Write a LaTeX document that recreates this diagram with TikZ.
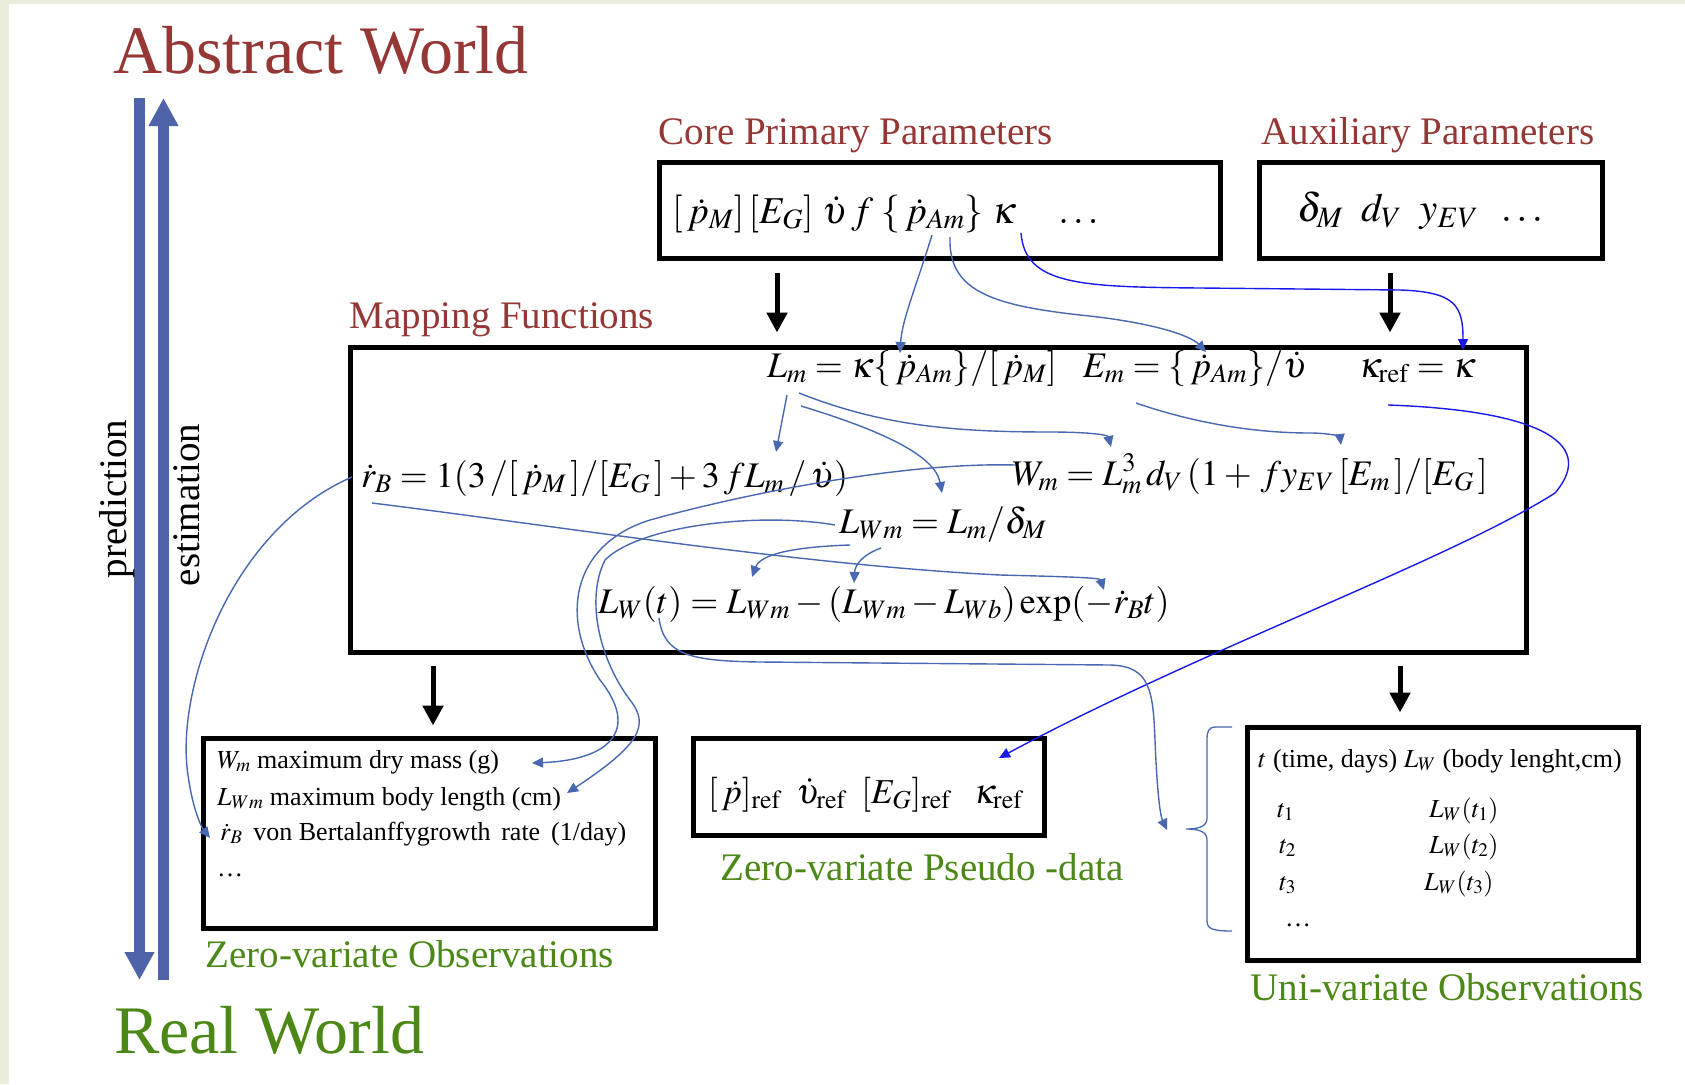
\documentclass[tikz,border=0pt]{standalone}
\usepackage{mathptmx}
\usepackage{fontspec}
\setmainfont{Liberation Serif}
\usetikzlibrary{arrows.meta,positioning}
\definecolor{DeepRed}{RGB}{149,55,53}
\definecolor{LeafGreen}{RGB}{76,136,22}
\definecolor{SteelBlue}{RGB}{78,99,168}
\definecolor{LinkBlue}{RGB}{72,104,178}
\definecolor{PureBlue}{RGB}{25,25,235}
\definecolor{SlideTint}{RGB}{232,238,218}
\tikzset{
  panel/.style={draw, line width=5pt, inner sep=0pt, anchor=north west},
  eq/.style={anchor=base west, inner sep=0pt, font=\fontsize{36}{40}\selectfont},
  small/.style={anchor=base west, inner sep=0pt, font=\fontsize{26}{30}\selectfont},
  headred/.style={inner sep=0pt, text height=28pt, text depth=9pt, text=DeepRed, font=\fontsize{39}{44}\selectfont},
  headgreen/.style={headred, text=LeafGreen},
  flowarrow/.style={line width=5pt, -{Triangle[width=20pt,length=20pt]}},
  worldarrow/.style={line width=11pt, draw=SteelBlue, -{Triangle[width=28pt,length=28pt]}},
  link/.style={draw=LinkBlue, line width=1.4pt, -{Triangle[width=10pt,length=11pt]}},
  kaplink/.style={link, draw=PureBlue}
}
\begin{document}
\begin{tikzpicture}[x=1pt, y=-1pt]
    \fill[white] (0,0) rectangle (1685,1084);
    \fill[SlideTint] (0,0) rectangle (9,1084);
    \fill[SlideTint] (0,0) rectangle (1685,4);
    \useasboundingbox (0,0) rectangle (1685,1084);

    % worlds
    \node [anchor=base west, inner sep=0pt, text=DeepRed, font=\fontsize{68}{72}\selectfont] (abstract) at (113,73) {Abstract World};
    \node [anchor=base west, inner sep=0pt, text=LeafGreen, font=\fontsize{68}{72}\selectfont] (real) at (114,1053) {Real World};
    \coordinate (predtop) at (139.5,98);
    \coordinate (predbot) at (139.5,980);
    \coordinate (esttop) at (163.5,98);
    \coordinate (estbot) at (163.5,980);
    \draw [worldarrow] (predtop) -- (predbot);
    \draw [worldarrow] (estbot) -- (esttop);
    \node [anchor=base, inner sep=0pt, rotate=90, font=\fontsize{39}{44}\selectfont] (pred) at (126,499) {prediction};
    \node [anchor=base, inner sep=0pt, rotate=90, font=\fontsize{39}{44}\selectfont] (est) at (199,505) {estimation};

    % boxes
    \node [panel, minimum width=561, minimum height=96] (core) at (656.5,159.5) {};
    \node [panel, minimum width=343, minimum height=96] (aux) at (1256.5,159.5) {};
    \node [panel, minimum width=1176, minimum height=305] (map) at (347.5,344.5) {};
    \node [panel, minimum width=452, minimum height=190] (zero) at (200.5,735.5) {};
    \node [panel, minimum width=351, minimum height=97] (pseudo) at (690.5,735.5) {};
    \node [panel, minimum width=391, minimum height=233] (uni) at (1244.5,724.5) {};

    % box titles
    \node [headred, above right=6pt and 2pt of core.north west] (corelbl) {Core Primary Parameters};
    \node [headred, above right=6pt and 5pt of aux.north west] (auxlbl) {Auxiliary Parameters};
    \node [headred, above right=7pt and 2pt of map.north west] (maplbl) {Mapping Functions};
    \node [headgreen, below right=9pt and 5pt of zero.south west] (zerolbl) {Zero-variate Observations};
    \node [headgreen, below right=15pt and 30pt of pseudo.south west] (pseudolbl) {Zero-variate Pseudo -data};
    \node [headgreen, below right=10pt and 6pt of uni.south west] (unilbl) {Uni-variate Observations};

    % contents
    \node [eq, font=\fontsize{38}{42}\selectfont] (coreeq) at (672,223) {$[\,\dot p_{M}]\,[E_{G}]\;\dot\upsilon\, f\;\{\,\dot p_{Am}\}\;\kappa\quad\ldots$};
    \node [eq, font=\fontsize{40}{44}\selectfont] (auxeq) at (1297,221) {$\delta_M\;\; d_{V}\;\; y_{EV}\;\;\ldots$};
    \node [eq] (lmeq) at (767,377) {$L_m = \kappa\{\,\dot p_{Am}\}/[\,\dot p_M]\enspace\; E_m = \{\,\dot p_{Am}\}/\dot\upsilon\quad\;\; \kappa_{\mathrm{ref}} = \kappa$};
    \node [eq] (rbeq) at (361,487) {$\dot r_B = 1(3\,/[\,\dot p_M\,]/[E_G\,] + 3\,fL_m\,/\,\dot\upsilon)$};
    \node [eq] (wmeq) at (1012,485) {$W_m = L_m^3\, d_V\,(1+\, fy_{EV}\,[E_m\,]/[E_G\,]$};
    \node [eq] (lwmeq) at (839,533) {$L_{Wm} = L_m/\delta_M$};
    \node [eq] (lwteq) at (598,613) {$L_W(t) = L_{Wm} - (L_{Wm} - L_{Wb})\exp(-\dot r_B t)$};
    \node [small] (obs1) at (217,768) {$W_m$ maximum dry mass (g)};
    \node [small] (obs2) at (217,805) {$L_{Wm}$ maximum body length (cm)};
    \node [small] (obs3) at (220,840) {$\dot r_B$\, von Bertalanffygrowth\, rate\, (1/day)};
    \node [small] (obs4) at (217,876) {\ldots};
    \node [eq, font=\fontsize{35}{40}\selectfont] (pseudoeq) at (708,803) {$[\,\dot p]_{\mathrm{ref}}\;\;\dot\upsilon_{\mathrm{ref}}\;\;[E_G]_{\mathrm{ref}}\;\;\;\kappa_{\mathrm{ref}}$};
    \node [small] (unihead) at (1258,767) {$t$ (time, days) $L_W$ (body lenght,cm)};
    \node [small] (t1) at (1277,817) {$t_1$};
    \node [small] (t2) at (1279,853) {$t_2$};
    \node [small] (t3) at (1279,890) {$t_3$};
    \node [small] (tdots) at (1285,926) {\ldots};
    \node [small] (lw1) at (1429,817) {$L_W(t_1)$};
    \node [small] (lw2) at (1429,853) {$L_W(t_2)$};
    \node [small] (lw3) at (1424,890) {$L_W(t_3)$};

    % flow arrows
    \coordinate (c1) at (777,0);
    \coordinate (c2) at (1390,0);
    \coordinate (c3) at (433,0);
    \coordinate (c4) at (1400,0);
    \draw [flowarrow, shorten <=12pt, shorten >=12pt] (core.south -| c1) -- (map.north -| c1);
    \draw [flowarrow, shorten <=12pt, shorten >=12pt] (aux.south -| c2) -- (map.north -| c2);
    \draw [flowarrow, shorten <=11pt, shorten >=10pt] (map.south -| c3) -- (zero.north -| c3);
    \draw [flowarrow, shorten <=11pt, shorten >=12pt] (map.south -| c4) -- (uni.north -| c4);

    % link ends
    \coordinate (pam1) at (932,235);
    \coordinate (pam2) at (950,237);
    \coordinate (kap) at (1021,233);
    \coordinate (pamL) at (900,353);
    \coordinate (pamE) at (1206,352);
    \coordinate (kapR) at (1463,350);
    \coordinate (lm1) at (787,395);
    \coordinate (lm2) at (799,393);
    \coordinate (lm3) at (801,406);
    \coordinate (em) at (1136,403);
    \coordinate (kref) at (1388,405);
    \coordinate (lmrb) at (776,452);
    \coordinate (lmwm) at (1111,447);
    \coordinate (lmlw) at (942,493);
    \coordinate (emwm) at (1341,445);
    \coordinate (rb1) at (352,477);
    \coordinate (rb2) at (372,503);
    \coordinate (wm) at (1015,465);
    \coordinate (lwm1) at (835,525);
    \coordinate (lwm2) at (850,545);
    \coordinate (lwm3) at (881,548);
    \coordinate (lwa) at (752,577);
    \coordinate (lwb) at (854,583);
    \coordinate (rbexp) at (1104,590);
    \coordinate (tt) at (659,618);
    \coordinate (obswm) at (532,763);
    \coordinate (obslwm) at (567,793);
    \coordinate (obsrb) at (210,838);
    \coordinate (pskap) at (999,758);
    \coordinate (brtip) at (1167,830);

    % links
    \draw [link] (pam1) .. controls (915,290) and (902,320) .. (pamL);
    \draw [link] (pam2) .. controls (948,290) and (990,305) .. (1080,315) .. controls (1150,322) and (1190,335) .. (pamE);
    \draw [kaplink] (kap) .. controls (1025,285) and (1080,287) .. (1200,288) -- (1400,290) .. controls (1455,292) and (1463,305) .. (kapR);
    \draw [link] (lm1) -- (lmrb);
    \draw [link] (lm2) .. controls (880,425) and (950,432) .. (1050,432) .. controls (1090,432) and (1108,435) .. (lmwm);
    \draw [link] (lm3) .. controls (880,430) and (935,455) .. (lmlw);
    \draw [link] (em) .. controls (1200,425) and (1260,433) .. (1310,433) .. controls (1330,433) and (1340,437) .. (emwm);
    \draw [kaplink] (kref) .. controls (1530,410) and (1600,440) .. (1555,493) .. controls (1450,560) and (1200,650) .. (pskap);
    \draw [link] (rb2) .. controls (550,525) and (800,565) .. (1000,575) .. controls (1080,577) and (1100,578) .. (rbexp);
    \draw [link] (rb1) .. controls (230,530) and (175,690) .. (188,775) .. controls (192,805) and (200,825) .. (obsrb);
    \draw [link] (wm) .. controls (900,462) and (740,495) .. (650,520) .. controls (570,545) and (560,620) .. (600,680) .. controls (640,730) and (610,760) .. (obswm);
    \draw [link] (lwm1) .. controls (760,512) and (640,525) .. (605,560) .. controls (585,600) and (600,660) .. (630,700) .. controls (650,725) and (640,745) .. (obslwm);
    \draw [link] (lwm2) .. controls (790,547) and (760,555) .. (lwa);
    \draw [link] (lwm3) .. controls (862,555) and (855,565) .. (lwb);
    \draw [link] (tt) .. controls (664,655) and (690,661) .. (760,662) -- (1110,665) .. controls (1150,666) and (1153,690) .. (1155,740) .. controls (1157,790) and (1160,815) .. (brtip);

    % brace
    \draw [LinkBlue, line width=1.3pt] (1232,727) -- (1216,727) .. controls (1208,727) and (1207,732) .. (1207,740) -- (1207,818) .. controls (1207,826) and (1200,829) .. (1186,829) .. controls (1200,829) and (1207,832) .. (1207,840) -- (1207,920) .. controls (1207,928) and (1210,931) .. (1232,931);
\end{tikzpicture}
\end{document}
